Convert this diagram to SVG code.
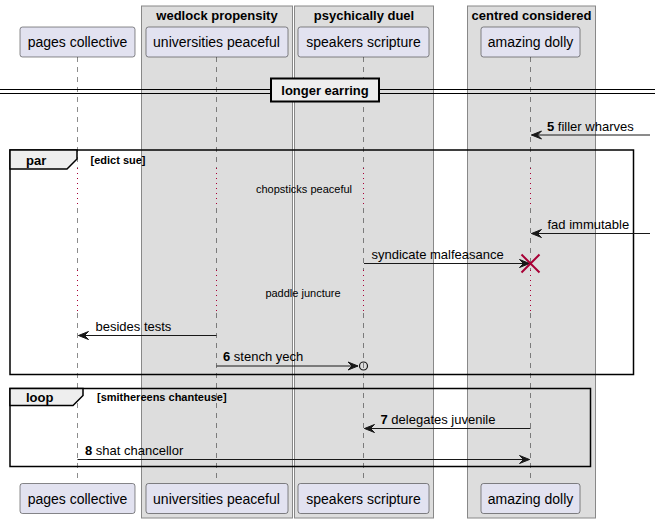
<svg xmlns="http://www.w3.org/2000/svg" width="655" height="524" viewBox="0 0 655 524">
<defs>
<style>
text{font-family:"Liberation Sans",Arial,sans-serif;fill:#000}
.grp{fill:#DDDDDD;stroke:#888;stroke-width:1}
.gt{font-size:13px;font-weight:bold;text-anchor:middle}
.pb{fill:#E2E2F0;stroke:#181818;stroke-width:0.5}
.pt{font-size:14px;text-anchor:middle}
.life{stroke:#181818;stroke-width:0.5;stroke-dasharray:5,5;fill:none}
.delay{stroke:#A80036;stroke-width:1;stroke-dasharray:1,4;fill:none}
.msg{stroke:#181818;stroke-width:1;fill:none}
.ah{fill:#181818;stroke:#181818;stroke-width:1}
.mt{font-size:13px}
.dt{font-size:11px;text-anchor:middle}
.frame{fill:none;stroke:#000;stroke-width:1.5}
.tab{fill:#EEEEEE;stroke:#000;stroke-width:1.5}
.ft{font-size:13px;font-weight:bold}
.ct{font-size:11px;font-weight:bold}
</style>
</defs>
<g id="groups">
<g id="box-wedlock"><rect class="grp" x="141.5" y="6" width="151" height="512"/><text class="gt" x="217" y="20">wedlock propensity</text></g>
<g id="box-psychically"><rect class="grp" x="294.5" y="6" width="139" height="512"/><text class="gt" x="364" y="20">psychically duel</text></g>
<g id="box-centred"><rect class="grp" x="467.5" y="6" width="128" height="512"/><text class="gt" x="531.5" y="20">centred considered</text></g>
</g>
<g id="lifelines">
<path class="life" d="M77.5,57 V168 M77.5,208 V270 M77.5,313 V483"/>
<path class="life" d="M216.5,57 V168 M216.5,208 V270 M216.5,313 V483"/>
<path class="life" d="M363.5,57 V168 M363.5,208 V270 M363.5,313 V483"/>
<path class="life" d="M530.5,57 V168 M530.5,208 V270 M530.5,313 V483"/>
<path class="delay" d="M77.5,168 V208 M216.5,168 V208 M363.5,168 V208 M530.5,168 V208"/>
<path class="delay" d="M77.5,270 V313 M216.5,270 V313 M363.5,270 V313 M530.5,270 V313"/>
</g>
<g id="p-pages"><rect class="pb" x="20" y="27" width="115" height="30" rx="2.5"/><text class="pt" x="77.5" y="47">pages collective</text></g>
<g id="p-universities"><rect class="pb" x="146" y="27" width="142" height="30" rx="2.5"/><text class="pt" x="216.5" y="47">universities peaceful</text></g>
<g id="p-speakers"><rect class="pb" x="298" y="27" width="131" height="30" rx="2.5"/><text class="pt" x="363.5" y="47">speakers scripture</text></g>
<g id="p-amazing"><rect class="pb" x="481" y="27" width="99" height="30" rx="2.5"/><text class="pt" x="530.5" y="47">amazing dolly</text></g>
<g id="p-pages-bottom"><rect class="pb" x="20" y="483.5" width="115" height="30" rx="2.5"/><text class="pt" x="77.5" y="504">pages collective</text></g>
<g id="p-universities-bottom"><rect class="pb" x="146" y="483.5" width="142" height="30" rx="2.5"/><text class="pt" x="216.5" y="504">universities peaceful</text></g>
<g id="p-speakers-bottom"><rect class="pb" x="298" y="483.5" width="131" height="30" rx="2.5"/><text class="pt" x="363.5" y="504">speakers scripture</text></g>
<g id="p-amazing-bottom"><rect class="pb" x="481" y="483.5" width="99" height="30" rx="2.5"/><text class="pt" x="530.5" y="504">amazing dolly</text></g>
<g id="divider">
<line x1="0" y1="89.5" x2="655" y2="89.5" stroke="#000" stroke-width="1"/>
<line x1="0" y1="93.5" x2="655" y2="93.5" stroke="#000" stroke-width="1"/>
<rect x="271" y="78.5" width="108" height="23" fill="#EEEEEE" stroke="#000" stroke-width="2"/>
<text class="ft" x="325" y="95" text-anchor="middle">longer earring</text>
</g>
<g id="frame-par">
<rect class="frame" x="10" y="150" width="623.5" height="224.5"/>
<path class="tab" d="M10,150 H77 V159 L67,169 H10 Z"/>
<text class="ft" x="26" y="165">par</text>
<text class="ct" x="90.5" y="164">[edict sue]</text>
</g>
<g id="frame-loop">
<rect class="frame" x="10" y="388.5" width="580.5" height="78"/>
<path class="tab" d="M10,388.5 H83 V395.5 L73,405.5 H10 Z"/>
<text class="ft" x="26" y="402">loop</text>
<text class="ct" x="97" y="401">[smithereens chanteuse]</text>
</g>
<g id="connectors">
<line class="msg" x1="650" y1="135" x2="531.5" y2="135"/>
<polygon class="ah" points="541.5,131 531.5,135 541.5,139 537.5,135"/>
<text class="mt" x="547" y="131"><tspan font-weight="bold">5</tspan> filler wharves</text>

<text class="dt" x="304" y="193">chopsticks peaceful</text>

<line class="msg" x1="650" y1="233.5" x2="531.5" y2="233.5"/>
<polygon class="ah" points="541.5,229.5 531.5,233.5 541.5,237.5 537.5,233.5"/>
<text class="mt" x="547.5" y="229">fad immutable</text>

<line class="msg" x1="364" y1="263.5" x2="529.5" y2="263.5"/>
<polygon class="ah" points="519.5,259.5 529.5,263.5 519.5,267.5 523.5,263.5"/>
<text class="mt" x="371.5" y="259">syndicate malfeasance</text>
<path d="M521.5,254.5 L539.5,272.5 M539.5,254.5 L521.5,272.5" stroke="#A80036" stroke-width="2" fill="none"/>

<text class="dt" x="303" y="297">paddle juncture</text>

<line class="msg" x1="216.5" y1="335.5" x2="78.5" y2="335.5"/>
<polygon class="ah" points="88.5,331.5 78.5,335.5 88.5,339.5 84.5,335.5"/>
<text class="mt" x="95.5" y="331">besides tests</text>

<line class="msg" x1="216.5" y1="366" x2="358" y2="366"/>
<polygon class="ah" points="348,362 358,366 348,370 352,366"/>
<circle cx="363.5" cy="366" r="4" fill="none" stroke="#181818" stroke-width="1.2"/>
<text class="mt" x="223" y="361"><tspan font-weight="bold">6</tspan> stench yech</text>

<line class="msg" x1="530.5" y1="428.5" x2="364.5" y2="428.5"/>
<polygon class="ah" points="374.5,424.5 364.5,428.5 374.5,432.5 370.5,428.5"/>
<text class="mt" x="380.5" y="424"><tspan font-weight="bold">7</tspan> delegates juvenile</text>

<line class="msg" x1="77.5" y1="459.5" x2="529.5" y2="459.5"/>
<polygon class="ah" points="519.5,455.5 529.5,459.5 519.5,463.5 523.5,459.5"/>
<text class="mt" x="85" y="455"><tspan font-weight="bold">8</tspan> shat chancellor</text>
</g>
</svg>
